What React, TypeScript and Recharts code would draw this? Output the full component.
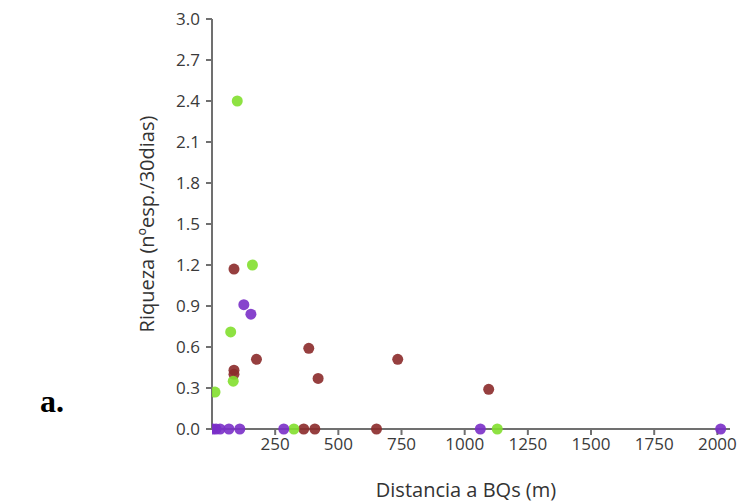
import { ScatterChart, Scatter, XAxis, YAxis } from 'recharts'

// Distancia a BQs (m) / Riqueza (nºesp./30dias), one pair of arrays per group
const greenX = [12, 100, 160, 74, 84, 324, 1129]
const greenY = [0.27, 2.4, 1.2, 0.71, 0.35, 0, 0]

const brownX = [87, 176, 87, 87, 383, 420, 735, 1095, 363, 407, 651]
const brownY = [1.17, 0.51, 0.43, 0.4, 0.59, 0.37, 0.51, 0.29, 0, 0, 0]

const purpleX = [126, 154, 4, 16, 32, 67, 110, 284, 1062, 2013]
const purpleY = [0.91, 0.84, 0, 0, 0, 0, 0, 0, 0, 0]

const xTicks = [250, 500, 750, 1000, 1250, 1500, 1750, 2000]
const yTicks = [0, 0.3, 0.6, 0.9, 1.2, 1.5, 1.8, 2.1, 2.4, 2.7, 3.0]

const toPoints = (xs: number[], ys: number[]) => xs.map((x, i) => ({ x, y: ys[i] }))

const FONT = '"Open Sans", "DejaVu Sans", sans-serif'
const AXIS = '#707070'

const dot = (color: string) => (props: any) => {
  const { cx, cy } = props
  if (cx == null || cy == null) return <g />
  return <circle cx={cx} cy={cy} r={5.5} fill={color} fillOpacity={0.9} />
}

export default function App() {
  const tick = { fontSize: 17, fill: '#3a3a3a', fontFamily: FONT }
  return (
    <div style={{ position: 'absolute', left: 0, top: 0, width: 741, height: 504, background: '#fff' }}>
      <div
        style={{
          position: 'absolute',
          left: 40,
          top: 383,
          fontFamily: '"Liberation Serif", "Times New Roman", serif',
          fontWeight: 'bold',
          fontSize: 32,
        }}
      >
        a.
      </div>
      <ScatterChart width={741} height={504} margin={{ top: 19, right: 11, bottom: 45, left: 152 }}>
        <XAxis
          type="number"
          dataKey="x"
          domain={[0, 2050]}
          ticks={xTicks}
          allowDataOverflow
          stroke={AXIS}
          strokeWidth={2}
          tickSize={6}
          tickMargin={3}
          tick={tick}
          height={30}
          label={{
            value: 'Distancia a BQs (m)',
            position: 'bottom',
            offset: 24,
            dx: -5,
            style: { fontSize: 20, fill: '#333', fontFamily: FONT },
          }}
        />
        <YAxis
          type="number"
          dataKey="y"
          domain={[0, 3]}
          ticks={yTicks}
          tickFormatter={(v: number) => v.toFixed(1)}
          stroke={AXIS}
          strokeWidth={2}
          tickSize={6}
          tickMargin={6}
          tick={tick}
          width={60}
          label={{
            value: 'Riqueza (nºesp./30dias)',
            angle: -90,
            position: 'insideLeft',
            offset: -5,
            style: { textAnchor: 'middle', fontSize: 20, fill: '#333', fontFamily: FONT },
          }}
        />
        <Scatter data={toPoints(brownX, brownY)} fill="#8b2a2a" shape={dot('#8b2a2a')} isAnimationActive={false} />
        <Scatter data={toPoints(greenX, greenY)} fill="#82df2e" shape={dot('#82df2e')} isAnimationActive={false} />
        <Scatter data={toPoints(purpleX, purpleY)} fill="#7a2fc8" shape={dot('#7a2fc8')} isAnimationActive={false} />
      </ScatterChart>
    </div>
  )
}
